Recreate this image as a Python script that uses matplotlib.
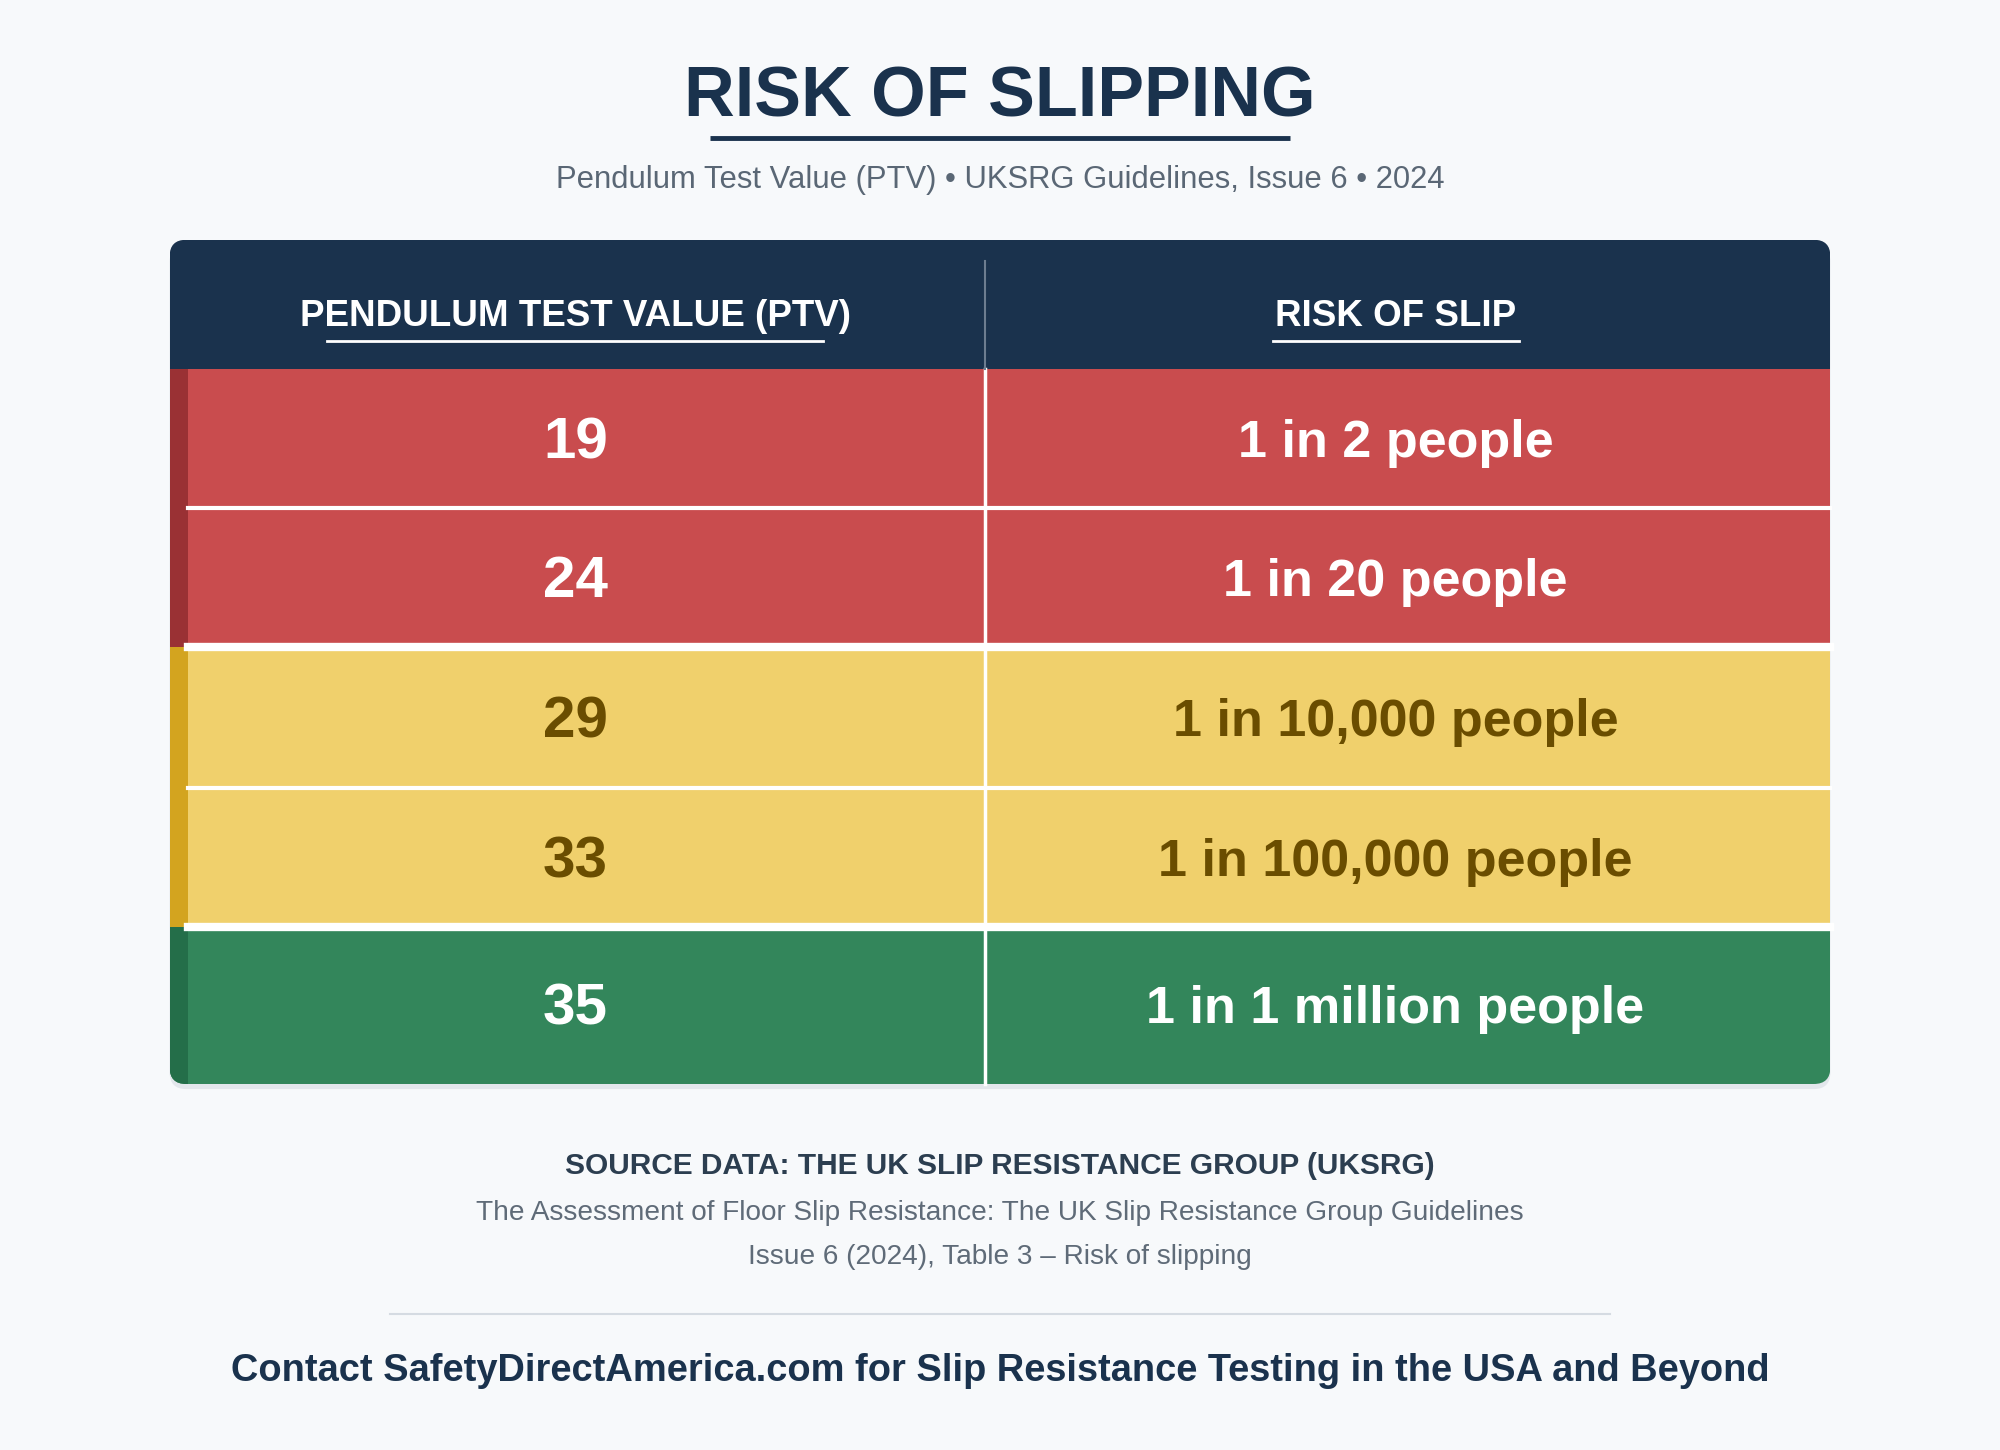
import matplotlib.pyplot as plt
from matplotlib.patches import Rectangle, FancyBboxPatch

plt.rcParams['font.family'] = ['Liberation Sans', 'DejaVu Sans']

# data
ptv_values = [19, 24, 29, 33, 35]
risk_labels = ['1 in 2 people', '1 in 20 people', '1 in 10,000 people',
               '1 in 100,000 people', '1 in 1 million people']
risk_levels = ['high', 'high', 'moderate', 'moderate', 'low']

fill = {'high': '#c94c4e', 'moderate': '#f0d06c', 'low': '#33865b'}
strip = {'high': '#9a3134', 'moderate': '#d3a41f', 'low': '#246e49'}
textc = {'high': 'white', 'moderate': '#6a4d00', 'low': 'white'}

NAVY = '#1a324d'
BG = '#f7f9fb'

fig = plt.figure(figsize=(20, 14.5), dpi=100, facecolor=BG)
ax = fig.add_axes([0, 0, 1, 1])
ax.set_xlim(0, 1568)
ax.set_ylim(1137, 0)
ax.axis('off')

# title block
ax.text(784, 77, 'RISK OF SLIPPING', ha='center', va='center', fontsize=50.5,
        fontweight='bold', color=NAVY)
ax.plot([557, 1011], [108, 108], color=NAVY, lw=3.5, solid_capstyle='butt')
ax.text(784, 141, 'Pendulum Test Value (PTV) \u2022 UKSRG Guidelines, Issue 6 \u2022 2024',
        ha='center', va='center', fontsize=22.3, color='#5a6775')

# table geometry
x0, x1, xm = 133, 1435, 772
top, head_bot = 188, 289
row_edges = [289, 398, 507, 618, 727, 850]

# shadow
ax.add_patch(FancyBboxPatch((x0, top + 4), x1 - x0, 850 - top,
                            boxstyle='round,pad=0,rounding_size=13',
                            fc='#e3e7ec', ec='none', zorder=0))
clip = FancyBboxPatch((x0, top), x1 - x0, 850 - top,
                      boxstyle='round,pad=0,rounding_size=13',
                      fc='none', ec='none', transform=ax.transData)
ax.add_patch(clip)

patches = []
patches.append(Rectangle((x0, top), x1 - x0, head_bot - top, fc=NAVY, ec='none'))
for i, lvl in enumerate(risk_levels):
    y0, y1 = row_edges[i], row_edges[i + 1]
    patches.append(Rectangle((x0, y0), x1 - x0, y1 - y0, fc=fill[lvl], ec='none'))
    patches.append(Rectangle((x0, y0), 14, y1 - y0, fc=strip[lvl], ec='none', zorder=3))
for p in patches:
    ax.add_patch(p)
    p.set_clip_path(clip)

# separators
for i in range(1, len(risk_levels)):
    y = row_edges[i]
    thick = risk_levels[i] != risk_levels[i - 1]
    ax.plot([147, x1], [y, y], color='white', lw=6 if thick else 3, zorder=4)
ax.plot([xm, xm], [head_bot, 850], color='white', lw=2.5, zorder=4)
ax.plot([xm, xm], [205, 289], color='#6d7d90', lw=1.5, zorder=4)

# header text
ax.text(451, 248, 'PENDULUM TEST VALUE (PTV)', ha='center', va='center',
        fontsize=26.5, fontweight='bold', color='white', zorder=5)
ax.plot([256, 645], [267, 267], color='white', lw=2, zorder=5)
ax.text(1094, 248, 'RISK OF SLIP', ha='center', va='center',
        fontsize=26.5, fontweight='bold', color='white', zorder=5)
ax.plot([998, 1191], [267, 267], color='white', lw=2, zorder=5)

for i, (v, lab, lvl) in enumerate(zip(ptv_values, risk_labels, risk_levels)):
    yc = (row_edges[i] + row_edges[i + 1]) / 2 + (4 if i < 4 else 3)
    ax.text(451, yc, str(v), ha='center', va='center', fontsize=42,
            fontweight='bold', color=textc[lvl], zorder=5)
    ax.text(1094, yc, lab, ha='center', va='center', fontsize=37.5,
            fontweight='bold', color=textc[lvl], zorder=5)

# footer
ax.text(784, 914, 'SOURCE DATA: THE UK SLIP RESISTANCE GROUP (UKSRG)', ha='center',
        va='center', fontsize=21.5, fontweight='bold', color='#2c3e50')
ax.text(784, 951, 'The Assessment of Floor Slip Resistance: The UK Slip Resistance Group Guidelines',
        ha='center', va='center', fontsize=20.2, color='#5f6b78')
ax.text(784, 986, 'Issue 6 (2024), Table 3 \u2013 Risk of slipping',
        ha='center', va='center', fontsize=20.2, color='#5f6b78')
ax.plot([306, 1262], [1030, 1030], color='#d5dbe2', lw=1.5)
ax.text(784, 1075, 'Contact SafetyDirectAmerica.com for Slip Resistance Testing in the USA and Beyond',
        ha='center', va='center', fontsize=27.4, fontweight='bold', color=NAVY)

fig.savefig('out.png', dpi=100, facecolor=BG)
